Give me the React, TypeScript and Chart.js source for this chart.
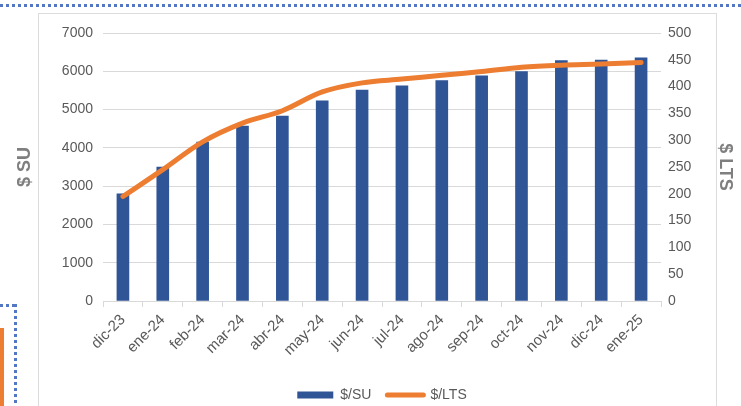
import React, { useEffect, useRef } from 'react';
import { Chart, registerables } from 'chart.js';

Chart.register(...registerables);

const categories = ['dic-23', 'ene-24', 'feb-24', 'mar-24', 'abr-24', 'may-24', 'jun-24', 'jul-24', 'ago-24', 'sep-24', 'oct-24', 'nov-24', 'dic-24', 'ene-25'];
const suValues = [2800, 3500, 4150, 4570, 4830, 5230, 5510, 5620, 5760, 5880, 5990, 6280, 6290, 6350];
const ltsValues = [195, 245, 297, 332, 355, 390, 407, 414, 421, 428, 436, 440, 442, 445];

const leftAxisMax = 7000;
const leftAxisStep = 1000;
const rightAxisMax = 500;
const rightAxisStep = 50;

const BLUE = '#2F5597';
const ORANGE = '#ED7D31';
const TICK_COLOR = '#595959';
const TITLE_COLOR = '#7F7F7F';
const GRID_COLOR = '#D9D9D9';
const FONT = '"Liberation Sans", Arial, sans-serif';

export default function App() {
  const canvasRef = useRef<HTMLCanvasElement | null>(null);

  useEffect(() => {
    const canvas = canvasRef.current;
    if (!canvas) return;
    const chart = new Chart(canvas, {
      data: {
        labels: categories,
        datasets: [
          {
            type: 'bar',
            label: '$/SU',
            data: suValues,
            backgroundColor: BLUE,
            borderWidth: 0,
            barThickness: 12,
            yAxisID: 'y',
            order: 1,
          },
          {
            type: 'line',
            label: '$/LTS',
            data: ltsValues,
            borderColor: ORANGE,
            backgroundColor: ORANGE,
            borderWidth: 5,
            borderCapStyle: 'round',
            borderJoinStyle: 'round',
            pointRadius: 0,
            pointHoverRadius: 0,
            tension: 0.35,
            yAxisID: 'y1',
            order: 0,
          },
        ],
      } as any,
      options: {
        responsive: false,
        animation: false,
        events: [],
        layout: { padding: { left: 0, right: 0, top: 33, bottom: -6 } },
        plugins: {
          tooltip: { enabled: false },
          legend: {
            position: 'bottom',
            fullSize: false,
            labels: {
              usePointStyle: true,
              pointStyleWidth: 36,
              boxHeight: 7,
              padding: 16,
              color: TICK_COLOR,
              font: { family: FONT, size: 14 },
              sort: (a: any, b: any) => a.datasetIndex - b.datasetIndex,
              generateLabels: (c: any) => {
                const items = (Chart.defaults.plugins.legend.labels as any).generateLabels(c);
                items.forEach((it: any) => {
                  if (it.datasetIndex === 1) {
                    it.pointStyle = 'line';
                    it.lineWidth = 5;
                    it.lineCap = 'round';
                    it.strokeStyle = ORANGE;
                  } else {
                    it.pointStyle = 'rect';
                    it.lineWidth = 0;
                    it.fillStyle = BLUE;
                  }
                });
                return items;
              },
            },
          },
        },
        scales: {
          x: {
            offset: true,
            grid: { display: true, drawOnChartArea: false, drawTicks: true, tickLength: 6, color: GRID_COLOR, offset: true },
            border: { display: true, color: GRID_COLOR },
            ticks: { minRotation: 45, maxRotation: 45, color: TICK_COLOR, font: { family: FONT, size: 15 }, padding: 4 },
            afterFit: (s: any) => { s.height = 71; },
          },
          y: {
            position: 'left',
            min: 0,
            max: leftAxisMax,
            ticks: { stepSize: leftAxisStep, padding: 10, color: TICK_COLOR, font: { family: FONT, size: 14 }, callback: (v: any) => String(v) },
            grid: { color: GRID_COLOR, drawTicks: false },
            border: { display: false },
            title: { display: true, text: '$ SU', color: TITLE_COLOR, font: { family: FONT, size: 18, weight: 'bold' }, padding: { top: 14, bottom: 0 } },
            afterFit: (s: any) => { s.width = 103; },
          },
          y1: {
            position: 'right',
            min: 0,
            max: rightAxisMax,
            ticks: { stepSize: rightAxisStep, padding: 7, color: TICK_COLOR, font: { family: FONT, size: 14 }, callback: (v: any) => String(v) },
            grid: { drawOnChartArea: false, drawTicks: false },
            border: { display: false },
            title: { display: true, text: '$ LTS', color: TITLE_COLOR, font: { family: FONT, size: 18, weight: 'bold' }, padding: { top: 5, bottom: 0 } },
            afterFit: (s: any) => { s.width = 80; },
          },
        },
      } as any,
    });
    return () => chart.destroy();
  }, []);

  const dotsH = 'repeating-linear-gradient(to right, #5477C4 0px, #5477C4 3px, transparent 3px, transparent 6px)';
  const dotsV = 'repeating-linear-gradient(to bottom, #5477C4 0px, #5477C4 3px, transparent 3px, transparent 6px)';

  return (
    <div style={{ position: 'absolute', left: 0, top: 0, width: 741, height: 406, background: '#fff', overflow: 'hidden' }}>
      <div style={{ position: 'absolute', left: 0, top: 4, width: 741, height: 3, background: dotsH }} />
      <div style={{ position: 'absolute', left: 0, top: 304, width: 17, height: 3, background: dotsH }} />
      <div style={{ position: 'absolute', left: 14, top: 304, width: 3, height: 102, background: dotsV }} />
      <div style={{ position: 'absolute', left: 0, top: 328, width: 4, height: 78, background: ORANGE }} />
      <div style={{ position: 'absolute', left: 38, top: 13, width: 679, height: 420, border: '1.5px solid #DCDCDC', boxSizing: 'border-box' }} />
      <canvas ref={canvasRef} width={741} height={406} style={{ position: 'absolute', left: 0, top: 0 }} />
    </div>
  );
}
